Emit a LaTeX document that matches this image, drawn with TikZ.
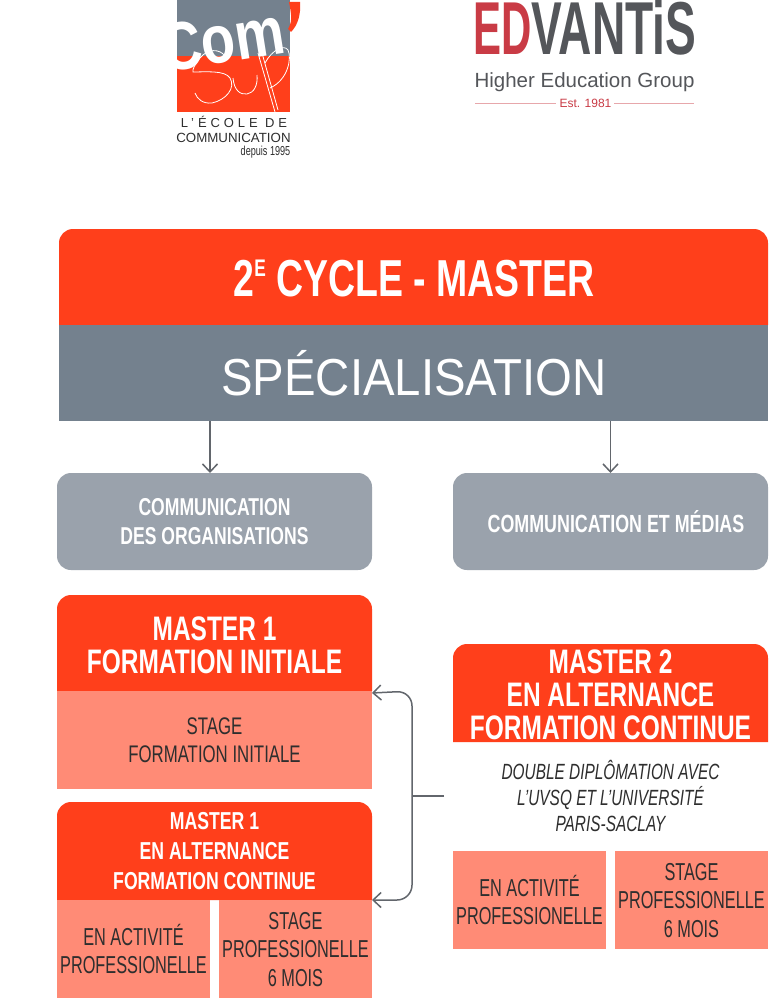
\documentclass[tikz,border=0pt]{standalone}
\usepackage{fontspec}
\setmainfont{Liberation Sans}[FakeStretch=0.70]
\newfontfamily\boldcond{Liberation Sans Bold}[FakeStretch=0.72]
\newfontfamily\widesans{Liberation Sans}[FakeStretch=0.91]
\newfontfamily\narrowsans{Liberation Sans}[FakeStretch=0.665]
\newfontfamily\logofont{Liberation Sans Bold}[FakeStretch=0.615]
\newfontfamily\edfont{Liberation Sans Bold}[FakeStretch=0.56]
\newfontfamily\comfont{Liberation Sans Bold}[FakeStretch=0.82]
\newfontfamily\plainsans{Liberation Sans}
\newfontfamily\spacedsans{Liberation Sans}[LetterSpace=30]
\usetikzlibrary{arrows.meta}
\definecolor{redc}{HTML}{FF3F1B}
\definecolor{slate}{HTML}{74818E}
\definecolor{lightslate}{HTML}{9AA2AC}
\definecolor{salmon}{HTML}{FF8B76}
\definecolor{linec}{HTML}{62666C}
\definecolor{inkc}{HTML}{2E2E2E}
\definecolor{edred}{HTML}{C93B45}
\definecolor{edgrey}{HTML}{54565A}
\tikzset{
  panel/.style={inner sep=0pt,outer sep=0pt,align=center,text depth=0pt},
  whitebold/.style={panel,text=white},
  darktext/.style={panel,text=inkc},
  greybox/.style={panel,fill=lightslate,rounded corners=14pt,minimum width=315pt,minimum height=97pt,text=white},
  salmonbox/.style={darktext,fill=salmon,minimum width=153pt,minimum height=98pt,font=\narrowsans\fontsize{24.5}{28.5}\selectfont},
  sup/.style={white,line width=.8pt},
  conn/.style={draw=linec,line width=1.5pt},
  tip/.style={-{Straight Barb[length=8pt,width=15pt,line width=1.5pt]}}
}
\newcommand{\toprnd}[5]{\fill[#5] (#1,#4) -- (#1,#2+14) arc[start angle=180,end angle=90,radius=14pt] -- (#3-14,#2) arc[start angle=90,end angle=0,radius=14pt] -- (#3,#4) -- cycle;}
\begin{document}
\begin{tikzpicture}[x=1pt,y=-1pt]
\useasboundingbox (0,0) rectangle (768,998);
\fill[white] (0,0) rectangle (768,998);

% Com'Sup logo
\fill[slate] (177,0) rectangle (290,56);
\fill[redc] (177,56) rectangle (290,112);
\node[panel,text=white,font=\comfont\fontsize{68}{68}\selectfont,anchor=base west,rotate=9] (logocom) at (165,72) {Com};
\fill[white] (150,0) rectangle (177,112);
\fill[white] (290,0) rectangle (310,112);
\fill[redc] (289,2) -- (300,2) .. controls (301,14) and (298,25) .. (291,32) -- (288,29) .. controls (292,22) and (292,17) .. (289,2) -- cycle;
\draw[sup] (225,56) .. controls (220,49) and (208,48) .. (200,58) .. controls (195,64) and (192,70) .. (193,72) .. controls (205,72) and (225,70) .. (230,78) .. controls (236,88) and (226,100) .. (212,103) .. controls (203,104) and (197,99) .. (195,93);
\draw[sup] (233,78) .. controls (234,90) and (240,95) .. (247,94) .. controls (254,93) and (258,85) .. (257,75);
\draw[sup] (258,53) -- (275,112) (262,53) -- (278,110);
\draw[sup] (265,63) .. controls (272,50) and (284,44) .. (288,50) .. controls (292,58) and (288,80) .. (270,88);
\node[panel,text=inkc,font=\spacedsans\fontsize{13}{13}\selectfont,anchor=base] (logoa) at (234,127) {L’ÉCOLE DE};
\node[panel,text=inkc,font=\plainsans\fontsize{13.3}{13}\selectfont,anchor=base] (logob) at (233.5,142) {COMMUNICATION};
\node[panel,text=inkc,font=\fontsize{13}{13}\selectfont,anchor=base] (logoc) at (265.5,155) {depuis 1995};

% Edvantis logo
\node[panel,text=edred,font=\edfont\fontsize{75}{75}\selectfont,anchor=base west] (eda) at (473,55) {ED};
\node[panel,text=edgrey,font=\logofont\fontsize{75}{75}\selectfont,anchor=base west] (edb) at (531.5,55) {VANTiS};
\node[panel,text=edgrey,font=\plainsans\fontsize{20.5}{20}\selectfont,anchor=base] (edc) at (584.5,88) {Higher Education Group};
\node[panel,text=edred,font=\plainsans\fontsize{12}{12}\selectfont,anchor=base] (edd) at (585.5,107) {Est. 1981};
\draw[edred!45,line width=.7pt] (475,103) -- (556,103) (614,103) -- (694,103);

% header
\toprnd{59}{229}{768}{325}{redc}
\node[whitebold,font=\boldcond\fontsize{52}{52}\selectfont,anchor=base] (cycle) at (414,296) {2\raisebox{20pt}{\fontsize{24}{24}\selectfont E} CYCLE - MASTER};
\fill[slate] (59,325) rectangle (768,421);
\node[panel,minimum width=709pt,minimum height=96pt] (spec) at (413.5,373) {};
\node[panel,text=white,font=\widesans\fontsize{52}{52}\selectfont,anchor=base] (spect) at (414,395) {SPÉCIALISATION};

% specialisation boxes
\node[greybox,font=\boldcond\fontsize{24.4}{29}\selectfont] (org) at (214.5,521.5) {COMMUNICATION\\DES ORGANISATIONS};
\node[greybox,font=\boldcond\fontsize{24.8}{29}\selectfont] (med) at (610.5,521.5) {\hspace{11pt}COMMUNICATION ET MÉDIAS};

% master 1 initial
\toprnd{57}{595}{372}{691}{redc}
\node[whitebold,font=\boldcond\fontsize{34}{33}\selectfont,minimum width=315pt,minimum height=96pt] (m1i) at (214.5,645) {MASTER 1\\FORMATION INITIALE};
\node[darktext,fill=salmon,font=\fontsize{24}{28}\selectfont,minimum width=315pt,minimum height=98pt] (m1is) at (214.5,740) {STAGE\\FORMATION INITIALE};

% master 1 alternance
\toprnd{57}{802}{372}{900}{redc}
\node[whitebold,font=\boldcond\fontsize{24.5}{30}\selectfont,minimum width=315pt,minimum height=98pt] (m1a) at (214.5,851) {MASTER 1\\EN ALTERNANCE\\FORMATION CONTINUE};
\node[salmonbox] (m1aa) at (133.5,949) {EN ACTIVITÉ\\PROFESSIONELLE};
\node[salmonbox] (m1ab) at (295.5,949) {STAGE\\PROFESSIONELLE\\6 MOIS};

% master 2
\toprnd{453}{644}{768}{742}{redc}
\node[whitebold,font=\boldcond\fontsize{34}{33}\selectfont,minimum width=315pt,minimum height=98pt] (m2) at (610.5,695) {MASTER 2\\EN ALTERNANCE\\FORMATION CONTINUE};
\node[darktext,font=\itshape\fontsize{22}{26}\selectfont,minimum width=315pt,minimum height=90pt] (m2t) at (610.5,796) {DOUBLE DIPLÔMATION AVEC\\L’UVSQ ET L’UNIVERSITÉ\\PARIS-SACLAY};
\node[salmonbox] (m2a) at (529.5,900) {EN ACTIVITÉ\\PROFESSIONELLE};
\node[salmonbox] (m2b) at (691.5,900) {STAGE\\PROFESSIONELLE\\6 MOIS};

% connectors
\coordinate (orgin) at ([xshift=-4.5pt]org.north);
\draw[conn,tip] (spec.south -| orgin) -- (orgin);
\draw[conn,tip] (spec.south -| med.north) -- (med.north);
\coordinate (jn) at (412,796);
\draw[conn] ([xshift=-9pt]m2t.west) -- (jn);
\draw[conn,tip,rounded corners=15pt] (jn) -- (412,691) -- (m1i.south east);
\draw[conn,tip,rounded corners=15pt] (jn) -- (412,900) -- (m1a.south east);
\end{tikzpicture}
\end{document}
